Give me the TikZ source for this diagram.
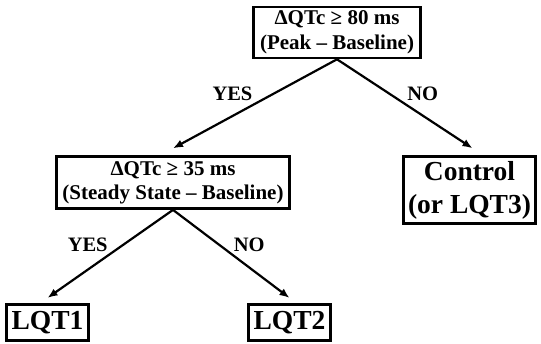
\documentclass[tikz,border=0pt]{standalone}
\usepackage{fontspec}
\setmainfont{Liberation Serif}
\usetikzlibrary{arrows.meta, positioning}
\tikzset{
	testbox/.style ={rectangle, draw=black, line width=2.6pt, align=center, inner sep=3pt, font=\fontsize{21}{24.5}\selectfont\bfseries},
	outbox/.style  ={rectangle, draw=black, line width=2.6pt, align=center, inner sep=3pt, font=\fontsize{27.5}{33}\selectfont\bfseries},
	branch/.style  ={-{Latex[length=10pt, width=8pt]}, line width=2.2pt},
	answer/.style  ={font=\fontsize{20.5}{24}\selectfont\bfseries, inner sep=1.5pt},
}
\begin{document}
\begin{tikzpicture}[x=1pt, y=1pt]
	\useasboundingbox (0,0) rectangle (541,343);
	\node[testbox, minimum width=167pt, minimum height=51pt] (peak) at (337,310.5) {ΔQTc ≥ 80 ms\\ (Peak – Baseline)};
	\node[testbox, minimum width=233pt, minimum height=52pt, below=96pt of peak, xshift=-164pt] (steady) {ΔQTc ≥ 35 ms\\ (Steady State – Baseline)};
	\node[outbox, minimum width=132pt, minimum height=67pt, below=96pt of peak, xshift=132.5pt] (ctrl) {Control\\ (or LQT3)};
	\node[outbox, minimum width=82pt, minimum height=36pt, below=93pt of steady, xshift=-125.5pt] (lqt1) {LQT1};
	\node[outbox, minimum width=82pt, minimum height=36pt, below=93pt of steady, xshift=116.5pt] (lqt2) {LQT2};
	% first split
	\draw[branch] (peak.south) -- node[answer, above left] {YES} ([yshift=7pt]steady.north);
	\draw[branch] (peak.south) -- node[answer, above right] {NO} ([xshift=3pt, yshift=7pt]ctrl.north);
	% second split
	\draw[branch] (steady.south) -- node[answer, above left] {YES} ([yshift=5pt]lqt1.north);
	\draw[branch] (steady.south) -- node[answer, above right] {NO} ([yshift=5pt]lqt2.north);
\end{tikzpicture}
\end{document}
